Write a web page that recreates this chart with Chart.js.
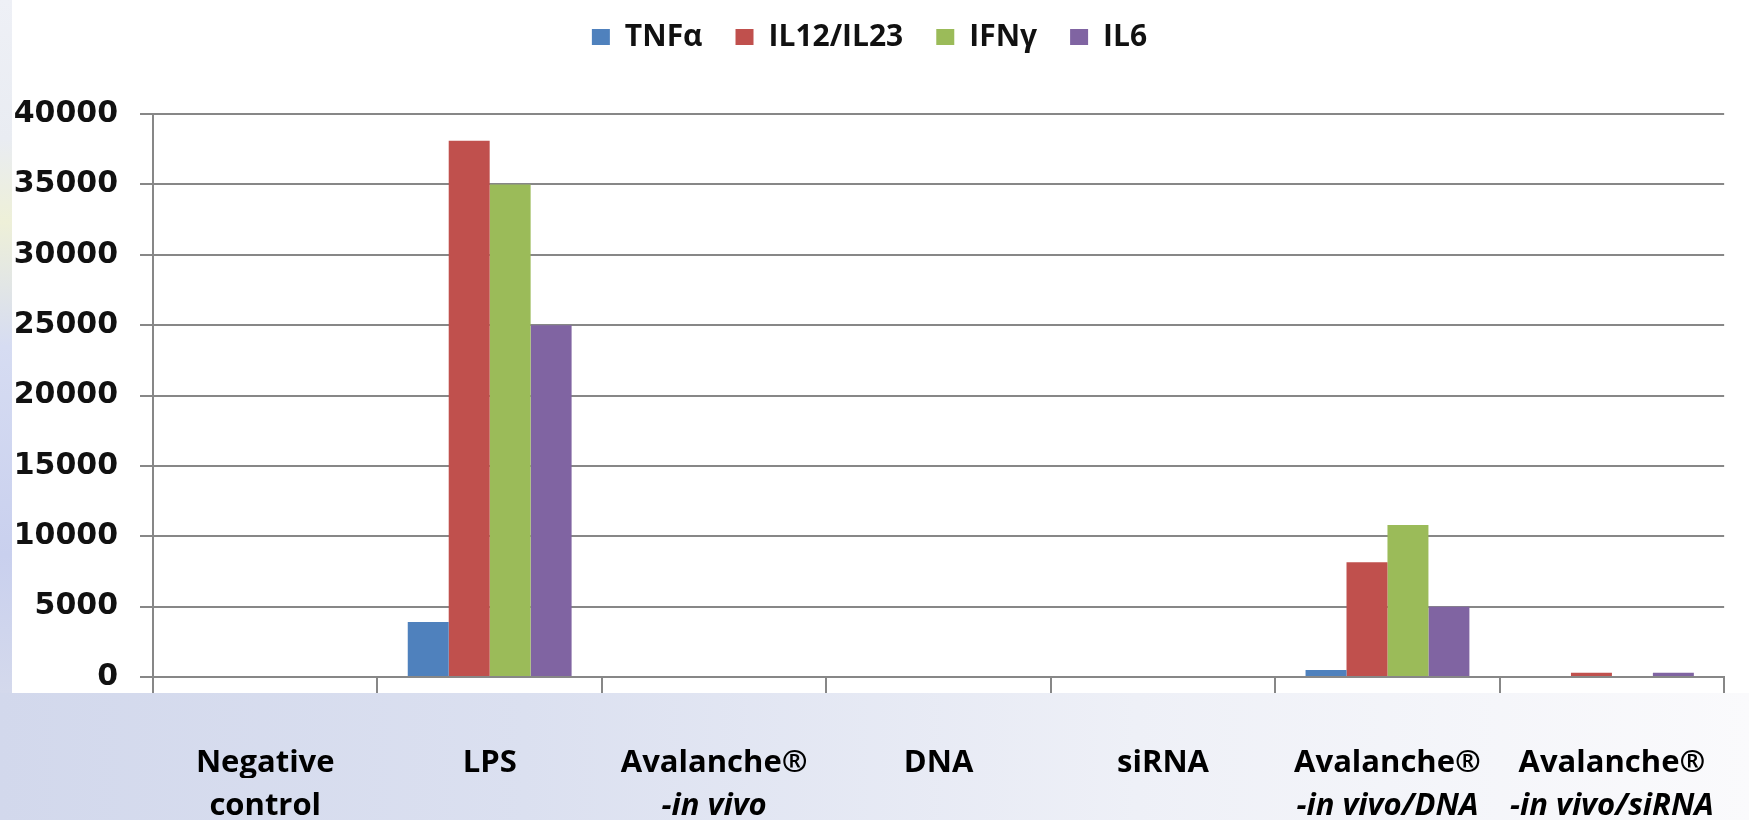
<!DOCTYPE html>
<html lang="en">
<head>
  <meta charset="UTF-8">
  <title>Cytokine response</title>
  <script src="https://cdn.jsdelivr.net/npm/chart.js"></script>
  <style>
    html, body { margin: 0; padding: 0; }
    body {
      width: 1749px; height: 820px; overflow: hidden; position: relative;
      background: linear-gradient(90deg, #d2d8ec 0%, #dbe0f0 30%, #eef0f7 65%, #fafafc 100%);
    }
    #leftStrip {
      position: absolute; left: 0; top: 0; width: 12px; height: 693px;
      background: linear-gradient(180deg, #eef0f6 0%, #e9ecf2 20%, #eef0d8 32%, #d6dcf2 50%, #c9d0ee 80%, #d4d9ec 100%);
    }
    #plotBg { position: absolute; left: 12px; top: 0; width: 1737px; height: 693px; background: #fff; }
    canvas { position: absolute; left: 0; top: 0; }
  </style>
</head>
<body>
  <div id="leftStrip"></div>
  <div id="plotBg"></div>
  <canvas id="cytokineChart" width="1749" height="820"></canvas>

  <script>
    // categories (two text lines each)
    const labelLine1 = ['Negative', 'LPS', 'Avalanche®', 'DNA', 'siRNA', 'Avalanche®', 'Avalanche®'];
    const labelLine2 = ['control', '', '-in vivo', '', '', '-in vivo/DNA', '-in vivo/siRNA'];

    // series values
    const tnfa = [0, 3900, 0, 0, 0, 500, 0];
    const il12 = [0, 38100, 0, 0, 0, 8150, 300];
    const ifng = [0, 35000, 0, 0, 0, 10800, 0];
    const il6  = [0, 25000, 0, 0, 0, 5000, 300];

    const seriesNames = ['TNFα', 'IL12/IL23', 'IFNγ', 'IL6'];
    const seriesColors = ['#4F81BD', '#C0504D', '#9BBB59', '#8064A2'];

    const yMax = 40000;
    const yStep = 5000;

    const gridGray = '#878787';
    const line1Font = { family: 'Open Sans', weight: 'bold', size: 31, lineHeight: 1.8 };
    const line2Font = { family: 'Open Sans', weight: 'bold', size: 31, lineHeight: 1.0 };

    // push the plot down below the legend
    const legendSpacer = {
      id: 'legendSpacer',
      beforeInit(chart) {
        const origFit = chart.legend.fit;
        chart.legend.fit = function () {
          origFit.bind(chart.legend)();
          this.height += 52;
        };
      }
    };

    const ctx = document.getElementById('cytokineChart').getContext('2d');
    new Chart(ctx, {
      type: 'bar',
      data: {
        labels: labelLine1,
        datasets: [tnfa, il12, ifng, il6].map((vals, i) => ({
          label: seriesNames[i],
          data: vals,
          backgroundColor: seriesColors[i],
          categoryPercentage: 0.73,
          barPercentage: 1.0
        }))
      },
      options: {
        responsive: false,
        animation: false,
        devicePixelRatio: 1,
        layout: { padding: { left: 14, right: 24, top: -11, bottom: 0 } },
        plugins: {
          tooltip: { enabled: false },
          legend: {
            position: 'top',
            labels: {
              boxWidth: 18,
              boxHeight: 16,
              padding: 33,
              color: '#111',
              font: { family: 'Open Sans', weight: 'bold', size: 30 }
            }
          }
        },
        scales: {
          x: {
            grid: { drawOnChartArea: false, color: gridGray, lineWidth: 2, tickLength: 16 },
            border: { color: gridGray, width: 2 },
            ticks: { color: '#000', font: line1Font, padding: 42, maxRotation: 0, autoSkip: false },
            afterFit: (s) => { s.height = 101; }
          },
          x2: {
            type: 'category',
            labels: labelLine2,
            position: 'bottom',
            offset: true,
            grid: { display: false, drawTicks: false },
            border: { display: false },
            ticks: {
              color: '#000',
              padding: 13,
              maxRotation: 0,
              autoSkip: false,
              font: (c) => c.index === 0 ? line2Font : { ...line2Font, style: 'italic' }
            },
            afterFit: (s) => { s.height = 42; }
          },
          y: {
            min: 0,
            max: yMax,
            grid: { color: gridGray, lineWidth: 2, tickLength: 13 },
            border: { color: gridGray, width: 2 },
            ticks: {
              stepSize: yStep,
              padding: 22,
              color: '#111',
              font: { family: 'DejaVu Sans', weight: 'bold', size: 30 },
              callback: (v) => String(v)
            },
            afterFit: (s) => { s.width = 139; }
          }
        }
      },
      plugins: [legendSpacer]
    });
  </script>
</body>
</html>
